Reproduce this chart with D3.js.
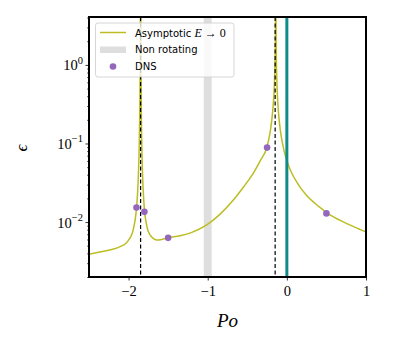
<!DOCTYPE html>
<html>
<head>
<meta charset="utf-8">
<script src="https://cdn.jsdelivr.net/npm/d3@7"></script>
<style>
  body { margin: 0; background: #fff; }
</style>
</head>
<body>
<div id="chart"></div>
<script>
// asymptotic curve (E -> 0)
const curvePo = [-2.5, -2.35, -2.2, -2.1, -2.04, -2.0, -1.97, -1.95, -1.93, -1.91, -1.899, -1.885, -1.875, -1.865, -1.858, -1.853, -1.848,
  -1.843, -1.838, -1.83, -1.82, -1.81, -1.797, -1.78, -1.76, -1.74, -1.71, -1.68, -1.64, -1.58, -1.5, -1.35, -1.2, -1.013,
  -0.85, -0.676, -0.55, -0.423, -0.33, -0.253, -0.23, -0.21, -0.19, -0.175, -0.163, -0.155, -0.148, -0.143, -0.14,
  -0.135, -0.127, -0.117, -0.106, -0.09, -0.07, -0.043, -0.02, 0, 0.02, 0.06, 0.127, 0.25, 0.35, 0.464, 0.5, 0.6, 0.7, 0.85, 1.0];
const curveEps = [0.0039, 0.0042, 0.0045, 0.0049, 0.0053, 0.0059, 0.0066, 0.0074, 0.009, 0.012, 0.0153, 0.0247, 0.042, 0.098, 0.275, 1.08, 10,
  0.84, 0.21, 0.071, 0.0325, 0.0202, 0.0135, 0.0102, 0.0081, 0.0072, 0.0065, 0.0061, 0.0059, 0.006, 0.0063, 0.0067, 0.0074, 0.0092,
  0.01245, 0.0191, 0.0278, 0.042, 0.0617, 0.089, 0.111, 0.143, 0.2, 0.286, 0.43, 0.67, 1.25, 3.3, 10,
  1.7, 0.65, 0.37, 0.25, 0.17, 0.121, 0.088, 0.07, 0.061, 0.053, 0.0425, 0.032, 0.0218, 0.0175, 0.0141, 0.0132, 0.0115, 0.0102, 0.0087, 0.0075];

// DNS runs
const dnsPo = [-1.9, -1.8, -1.5, -0.25, 0.5];
const dnsEps = [0.0153, 0.0135, 0.0063, 0.0887, 0.0129];

// resonances (dashed), non rotating band, Po = 0 line
const resonancePo = [-1.848, -0.148];
const nonRotBand = [-1.05, -0.95];
const zeroPo = 0;

const xTicks = [-2, -1, 0, 1];
const xTickLabels = ["\u22122", "\u22121", "0", "1"];
const yMajor = [0.01, 0.1, 1];
const yMajorExp = ["\u22122", "\u22121", "0"];

const width = 407, height = 339;
const margin = {top: 17, right: 41, bottom: 62, left: 89};

const x = d3.scaleLinear().domain([-2.5, 1]).range([margin.left, width - margin.right]);
const y = d3.scaleLog().domain([0.002, 4.07]).range([height - margin.bottom, margin.top]);

const svg = d3.select("#chart").append("svg")
  .attr("width", width).attr("height", height);

svg.append("clipPath").attr("id", "clip")
  .append("rect")
  .attr("x", margin.left).attr("y", margin.top)
  .attr("width", width - margin.left - margin.right)
  .attr("height", height - margin.top - margin.bottom);

const plot = svg.append("g").attr("clip-path", "url(#clip)");

// non rotating band
plot.append("rect")
  .attr("x", x(nonRotBand[0]))
  .attr("y", margin.top)
  .attr("width", x(nonRotBand[1]) - x(nonRotBand[0]))
  .attr("height", height - margin.top - margin.bottom)
  .attr("fill", "#dedede");

const pts = curvePo.map((d, i) => [d, curveEps[i]]);
const line = d3.line()
  .x(d => x(d[0]))
  .y(d => y(d[1]))
  .curve(d3.curveMonotoneX);

plot.append("path")
  .datum(pts)
  .attr("fill", "none")
  .attr("stroke", "#bcbd22")
  .attr("stroke-width", 1.5)
  .attr("d", line);

plot.selectAll(".res")
  .data(resonancePo)
  .join("line")
  .attr("x1", d => x(d)).attr("x2", d => x(d))
  .attr("y1", margin.top).attr("y2", height - margin.bottom)
  .attr("stroke", "#000")
  .attr("stroke-width", 1.2)
  .attr("stroke-dasharray", "4,2.5");

plot.append("line")
  .attr("x1", x(zeroPo)).attr("x2", x(zeroPo))
  .attr("y1", margin.top).attr("y2", height - margin.bottom)
  .attr("stroke", "#108c88")
  .attr("stroke-width", 3);

plot.selectAll(".dns")
  .data(dnsPo)
  .join("circle")
  .attr("cx", d => x(d))
  .attr("cy", (d, i) => y(dnsEps[i]))
  .attr("r", 3.3)
  .attr("fill", "#9467bd");

// axes
const serif = "'Liberation Serif', 'DejaVu Serif', serif";

svg.append("g")
  .attr("transform", `translate(0,${height - margin.bottom})`)
  .call(d3.axisBottom(x).tickValues(xTicks).tickSize(3.5).tickPadding(5)
    .tickFormat((d, i) => xTickLabels[i]))
  .attr("font-family", serif)
  .attr("font-size", 14.5)
  .call(g => g.select(".domain").remove())
  .call(g => g.selectAll("line").attr("stroke-width", 0.8))
  .call(g => g.selectAll("text").attr("fill", "#000"));

const yMinor = [];
for (let e = -3; e <= 0; e++) {
  for (let m = 2; m <= 9; m++) {
    const v = m * Math.pow(10, e);
    if (v >= 0.002 && v <= 4.07) yMinor.push(v);
  }
}

svg.append("g")
  .attr("transform", `translate(${margin.left},0)`)
  .call(d3.axisLeft(y).tickValues(yMinor).tickSize(2).tickFormat(""))
  .call(g => g.select(".domain").remove())
  .call(g => g.selectAll("line").attr("stroke-width", 0.6));

const yAx = svg.append("g")
  .attr("transform", `translate(${margin.left},0)`)
  .call(d3.axisLeft(y).tickValues(yMajor).tickSize(3.5).tickFormat(""))
  .call(g => g.select(".domain").remove())
  .call(g => g.selectAll("line").attr("stroke-width", 0.8));

yAx.selectAll(".tick").each(function(d, i) {
  const t = d3.select(this).append("text")
    .attr("y", 5)
    .attr("fill", "#000")
    .attr("font-family", serif)
    .attr("font-size", 14.5)
    .attr("text-anchor", "start");
  t.append("tspan").text("10");
  t.append("tspan").attr("dy", -6.5).attr("font-size", 10.5).text(yMajorExp[i]);
  const w = t.node().getComputedTextLength();
  t.attr("x", -6 - w);
});

// frame
svg.append("rect")
  .attr("x", margin.left).attr("y", margin.top)
  .attr("width", width - margin.left - margin.right)
  .attr("height", height - margin.top - margin.bottom)
  .attr("fill", "none")
  .attr("stroke", "#000")
  .attr("stroke-width", 2);

// axis labels
svg.append("text")
  .attr("x", (margin.left + width - margin.right) / 2)
  .attr("y", 327)
  .attr("text-anchor", "middle")
  .attr("font-family", serif)
  .attr("font-style", "italic")
  .attr("font-size", 19)
  .text("Po");

svg.append("text")
  .attr("transform", "translate(27,148) rotate(-90)")
  .attr("text-anchor", "middle")
  .attr("font-family", serif)
  .attr("font-style", "italic")
  .attr("font-size", 17)
  .text("\u03F5");

// legend
const lg = svg.append("g");
lg.append("rect")
  .attr("x", 95.5).attr("y", 23)
  .attr("width", 138.5).attr("height", 54)
  .attr("rx", 2.5)
  .attr("fill", "#fff").attr("fill-opacity", 0.8)
  .attr("stroke", "#cccccc").attr("stroke-width", 0.8);

lg.append("line")
  .attr("x1", 100).attr("x2", 126).attr("y1", 32.5).attr("y2", 32.5)
  .attr("stroke", "#bcbd22").attr("stroke-width", 1.5);
lg.append("rect")
  .attr("x", 100).attr("y", 46.5).attr("width", 26).attr("height", 6.5)
  .attr("fill", "#dedede");
lg.append("circle")
  .attr("cx", 113).attr("cy", 66.5).attr("r", 3.3)
  .attr("fill", "#9467bd");

const sans = "'DejaVu Sans', sans-serif";
const t1 = lg.append("text")
  .attr("x", 135).attr("y", 36.5)
  .attr("font-family", sans).attr("font-size", 10);
t1.append("tspan").text("Asymptotic ");
t1.append("tspan").attr("font-family", serif).attr("font-style", "italic").attr("font-size", 12).text("E");
t1.append("tspan").attr("font-family", serif).attr("font-size", 12).text(" \u2192 0");

lg.append("text")
  .attr("x", 135).attr("y", 53)
  .attr("font-family", sans).attr("font-size", 10)
  .text("Non rotating");
lg.append("text")
  .attr("x", 135).attr("y", 70)
  .attr("font-family", sans).attr("font-size", 10)
  .text("DNS");
</script>
</body>
</html>
